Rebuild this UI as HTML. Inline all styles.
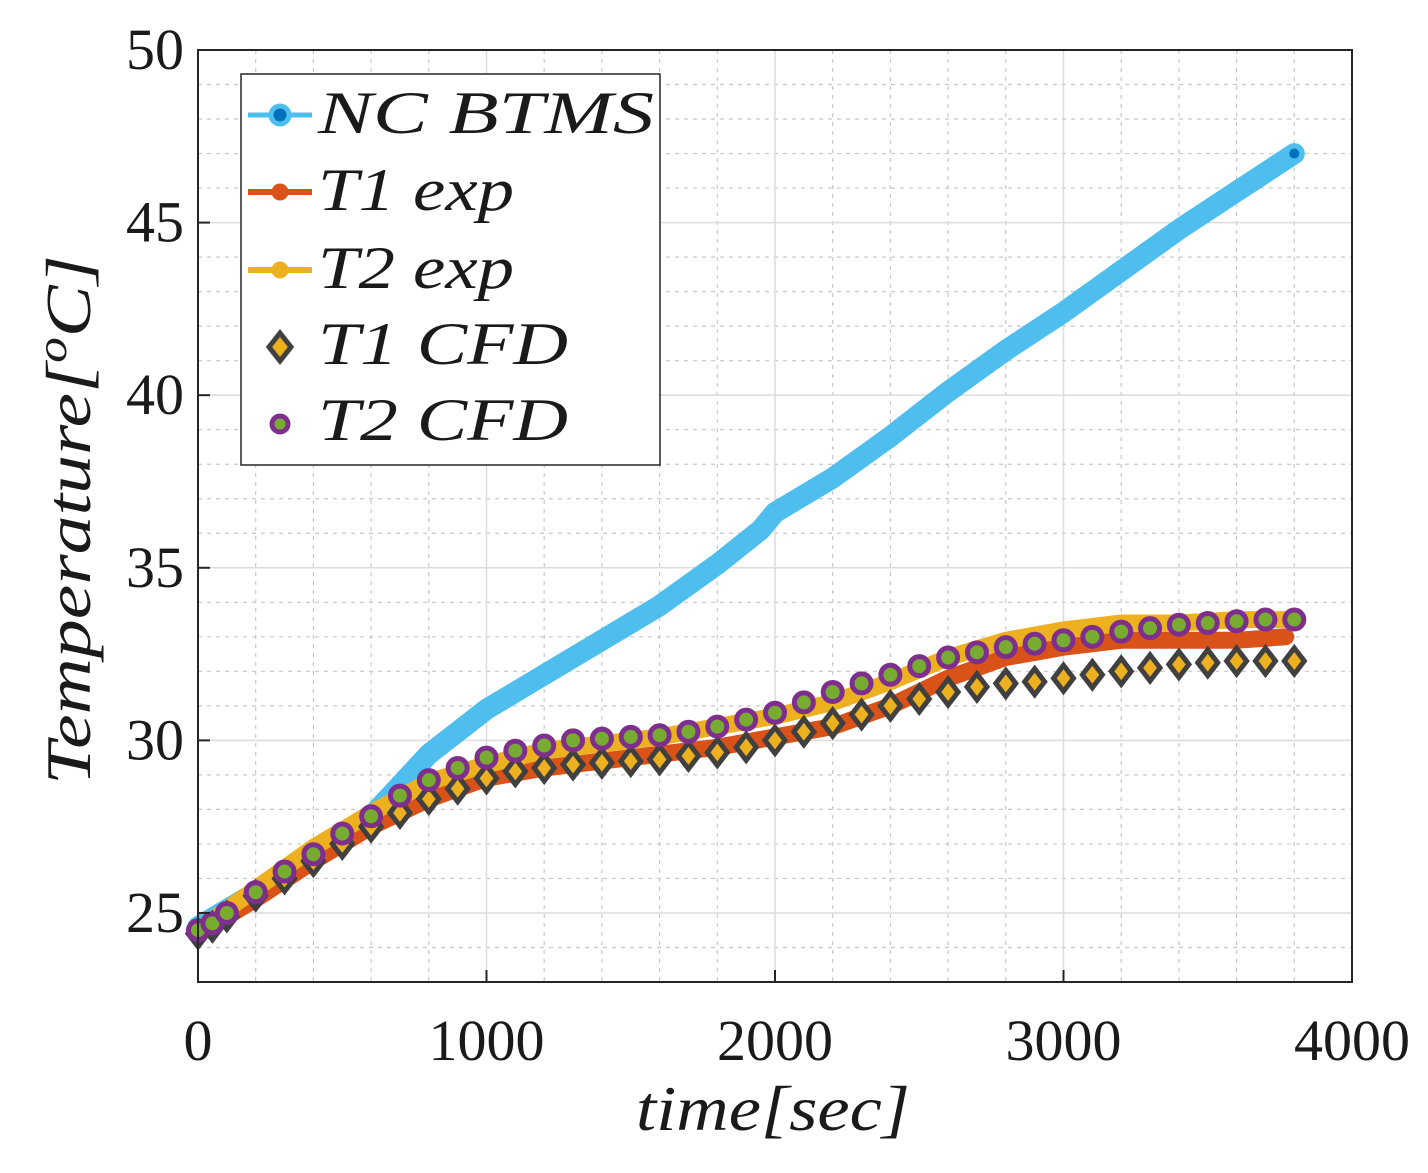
<!DOCTYPE html>
<html><head><meta charset="utf-8"><style>
html,body{margin:0;padding:0;background:#fff;}
svg text{font-family:"Liberation Serif",serif;fill:#1a1a1a;}
</style></head><body>
<svg id="chart" width="1428" height="1168" viewBox="0 0 1428 1168" xmlns="http://www.w3.org/2000/svg">
<rect width="1428" height="1168" fill="#fff"/>
<g id="grid"></g>
<g id="series"></g>
<rect x="198" y="50" width="1154" height="932" fill="none" stroke="#262626" stroke-width="2"/>
<g id="ticks"></g>
<text x="636" y="1130" font-size="64" font-style="italic" textLength="274" lengthAdjust="spacingAndGlyphs">time[sec]</text>
<text x="0" y="0" font-size="64" font-style="italic" textLength="530" lengthAdjust="spacingAndGlyphs" transform="translate(90,785) rotate(-90)">Temperature[<tspan font-size="42" dy="-24">o</tspan><tspan dy="24">C]</tspan></text>
<g>
<rect x="241" y="74" width="419" height="391" fill="#fff" stroke="#262626" stroke-width="1.5"/>
<g><line x1="248" y1="115" x2="312" y2="115" stroke="#4DBEEE" stroke-width="5"/><circle cx="280" cy="115" r="9" fill="#0072BD" stroke="#4DBEEE" stroke-width="5"/><text x="318" y="133" font-size="60" font-style="italic" textLength="336" lengthAdjust="spacingAndGlyphs">NC BTMS</text></g>
<g><line x1="248" y1="192" x2="312" y2="192" stroke="#D95319" stroke-width="6"/><circle cx="280" cy="192" r="7" fill="#D95319" stroke="#D95319" stroke-width="3"/><text x="318" y="210" font-size="60" font-style="italic" textLength="196" lengthAdjust="spacingAndGlyphs">T1 exp</text></g>
<g><line x1="248" y1="270" x2="312" y2="270" stroke="#EDB120" stroke-width="6"/><circle cx="280" cy="270" r="7" fill="#EDB120" stroke="#EDB120" stroke-width="3"/><text x="318" y="288" font-size="60" font-style="italic" textLength="196" lengthAdjust="spacingAndGlyphs">T2 exp</text></g>
<g><polygon points="280,333 291,347 280,361 269,347" fill="#EDB120" stroke="#404040" stroke-width="5"/><text x="318" y="364" font-size="60" font-style="italic" textLength="250" lengthAdjust="spacingAndGlyphs">T1 CFD</text></g>
<g><circle cx="280" cy="424" r="8" fill="#77AC30" stroke="#7E2F8E" stroke-width="5"/><text x="318" y="440" font-size="60" font-style="italic" textLength="250" lengthAdjust="spacingAndGlyphs">T2 CFD</text></g>
</g>
</svg>
<script>
const xTicks=[0,1000,2000,3000,4000];
const yTicks=[25,30,35,40,45,50];
const ncTime=[0,200,400,550,600,800,1000,1200,1400,1600,1800,1950,2000,2200,2400,2600,2800,3000,3200,3400,3600,3800];
const ncTemp=[24.6,25.6,26.6,27.4,27.8,29.6,30.9,31.9,32.9,33.9,35.1,36.1,36.6,37.6,38.8,40.1,41.3,42.4,43.6,44.8,45.9,47.0];
const expTime=[0,200,400,600,800,1000,1200,1400,1600,1800,2000,2200,2400,2600,2800,3000,3200,3400,3600,3770];
const t1Exp=[24.4,25.4,26.5,27.5,28.3,28.9,29.2,29.4,29.6,29.8,30.1,30.4,31.0,31.8,32.4,32.7,32.9,32.9,32.9,33.0];
const t2Exp=[24.5,25.7,26.9,27.9,28.8,29.3,29.7,29.9,30.1,30.4,30.7,31.1,31.7,32.4,32.9,33.2,33.4,33.4,33.5,33.5];
const cfdTime=[0,50,100,200,300,400,500,600,700,800,900,1000,1100,1200,1300,1400,1500,1600,1700,1800,1900,2000,2100,2200,2300,2400,2500,2600,2700,2800,2900,3000,3100,3200,3300,3400,3500,3600,3700,3800];
const t1Cfd=[24.4,24.6,24.9,25.5,26.0,26.5,27.0,27.5,27.9,28.3,28.6,28.9,29.1,29.2,29.3,29.35,29.4,29.45,29.55,29.65,29.8,30.0,30.25,30.5,30.75,31.0,31.2,31.4,31.55,31.65,31.7,31.8,31.9,32.0,32.1,32.2,32.25,32.3,32.3,32.3];
const t2Cfd=[24.5,24.7,25.0,25.6,26.2,26.7,27.3,27.8,28.4,28.85,29.2,29.5,29.7,29.85,30.0,30.05,30.1,30.15,30.25,30.4,30.6,30.8,31.1,31.4,31.65,31.9,32.15,32.4,32.55,32.7,32.8,32.9,33.0,33.15,33.25,33.35,33.4,33.45,33.5,33.5];
const NS='http://www.w3.org/2000/svg';
const X0=198,X1=1352,Y0=982,Y1=50,XMIN=0,XMAX=4000,YMIN=23,YMAX=50;
function sx(v){return X0+(v-XMIN)/(XMAX-XMIN)*(X1-X0);}
function sy(v){return Y0-(v-YMIN)/(YMAX-YMIN)*(Y0-Y1);}
function mk(tag,attrs,parent){const e=document.createElementNS(NS,tag);for(const k in attrs)e.setAttribute(k,attrs[k]);parent.appendChild(e);return e;}
const grid=document.getElementById('grid'),ticks=document.getElementById('ticks'),series=document.getElementById('series');
for(let v=200;v<4000;v+=200){if(v%1000===0)continue;const l=mk('line',{x1:sx(v),x2:sx(v),y1:Y1,y2:Y0,stroke:'#c8c8c8','stroke-width':1.2,'stroke-dasharray':'4 5'},grid);

}
for(let v=24;v<50;v++){if(v%5===0)continue;const l=mk('line',{x1:X0,x2:X1,y1:sy(v),y2:sy(v),stroke:'#c8c8c8','stroke-width':1.2,'stroke-dasharray':'4 5'},grid);

}
xTicks.forEach(v=>{const l=mk('line',{x1:sx(v),x2:sx(v),y1:Y1,y2:Y0,stroke:'#dcdcdc','stroke-width':1.5},grid);


mk('line',{x1:sx(v),x2:sx(v),y1:Y0,y2:Y0-12,stroke:'#262626','stroke-width':2},ticks);
const t=mk('text',{x:sx(v),y:1060,'font-size':58,'text-anchor':'middle'},ticks);t.textContent=v;

});
yTicks.forEach(v=>{const l=mk('line',{x1:X0,x2:X1,y1:sy(v),y2:sy(v),stroke:'#dcdcdc','stroke-width':1.5},grid);


mk('line',{x1:X0,x2:X0+12,y1:sy(v),y2:sy(v),stroke:'#262626','stroke-width':2},ticks);
const t=mk('text',{x:184,y:sy(v)+19,'font-size':58,'text-anchor':'end'},ticks);t.textContent=v;

});
function line(xs,ys,color,w,name){const d=xs.map((x,i)=>(i?'L':'M')+sx(x).toFixed(1)+','+sy(ys[i]).toFixed(1)).join(' ');
const p=mk('path',{d:d,fill:'none',stroke:color,'stroke-width':w,'stroke-linecap':'round','stroke-linejoin':'round'},series);

}
line(ncTime,ncTemp,'#4DBEEE',21,'nc-btms-line');
line(expTime,t1Exp,'#D95319',17,'t1-exp-line');
line(expTime,t2Exp,'#EDB120',17,'t2-exp-line');
const endM=mk('circle',{cx:sx(ncTime[ncTime.length-1]),cy:sy(ncTemp[ncTemp.length-1]),r:5,fill:'#0072BD'},series);


cfdTime.forEach((t,i)=>{const x=sx(t),y=sy(t1Cfd[i]);
const p=mk('polygon',{points:`${x},${y-13} ${x+10},${y} ${x},${y+13} ${x-10},${y}`,fill:'#EDB120',stroke:'#404040','stroke-width':5},series);

});
cfdTime.forEach((t,i)=>{const c=mk('circle',{cx:sx(t),cy:sy(t2Cfd[i]),r:9.5,fill:'#77AC30',stroke:'#7E2F8E','stroke-width':5},series);

});
</script>
</body></html>
